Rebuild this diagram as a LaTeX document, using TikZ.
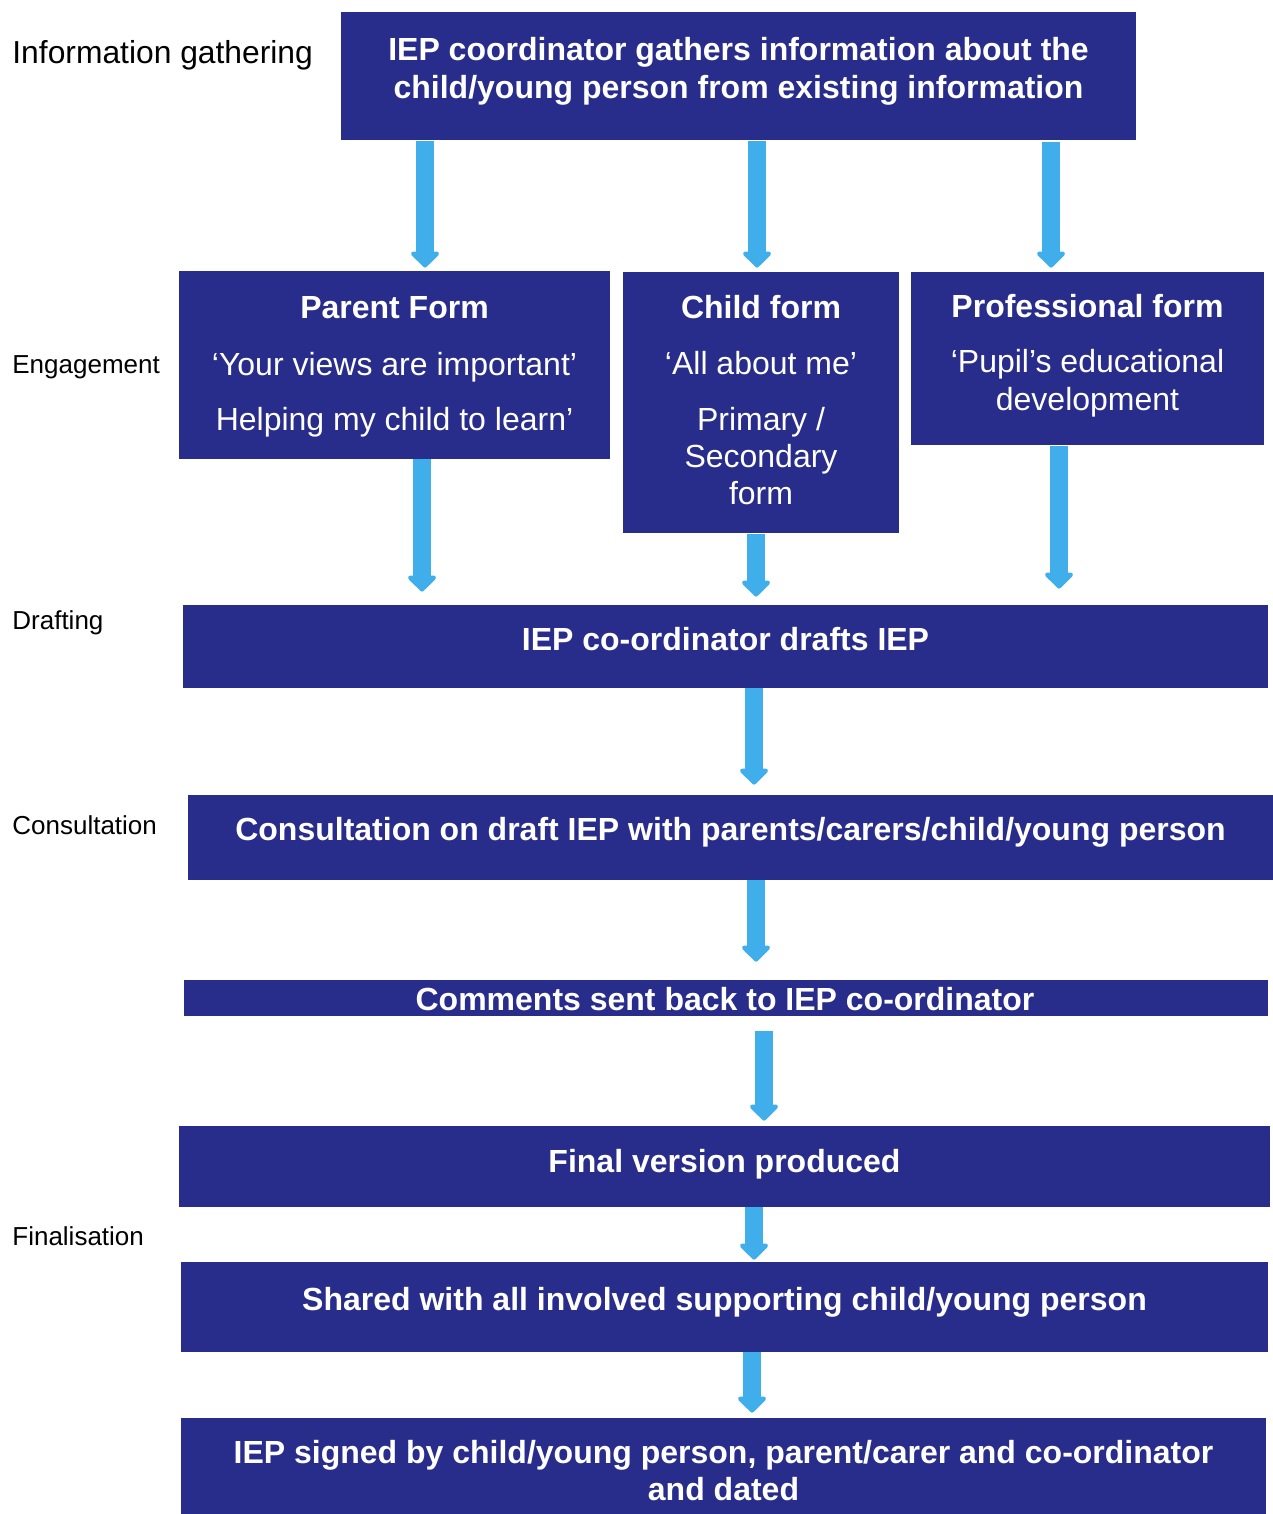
\documentclass[tikz,border=0pt]{standalone}
\usepackage{fontspec}
\setmainfont{Liberation Sans}
\usetikzlibrary{arrows.meta,calc}
\definecolor{navy}{RGB}{40,44,138}
\definecolor{sky}{RGB}{63,174,234}
\begin{document}
\begin{tikzpicture}[x=0.5pt,y=-0.5pt,
  box/.style={rectangle, fill=navy, draw=none, inner sep=0pt},
  bt/.style={text=white, font=\fontsize{16}{19}\selectfont\bfseries, anchor=base, inner sep=0pt},
  rt/.style={text=white, font=\fontsize{16}{19}\selectfont, anchor=base, inner sep=0pt},
  side/.style={text=black, font=\fontsize{13}{15}\selectfont, anchor=base west, inner sep=0pt},
  flow/.style={draw=sky, line width=9pt, line join=round, -{Triangle[width=16.5pt,length=8.5pt,round]}}]
\useasboundingbox (0,0) rectangle (1273,1514);

% stage labels down the left side
\node[side, font=\fontsize{15.9}{18}\selectfont] (lgather) at (12,64) {Information gathering};
\node[side] (lengage) at (12,373) {Engagement};
\node[side] (ldraft)  at (12,629) {Drafting};
\node[side] (lconsult) at (12,834) {Consultation};
\node[side] (lfinal)  at (12,1245) {Finalisation};

% boxes
\node[box, minimum width=397.5pt, minimum height=64pt]   (gather)   at (738.5,76) {};
\node[box, minimum width=215.5pt, minimum height=94pt]   (parent)   at (394.5,365) {};
\node[box, minimum width=138pt,   minimum height=130.5pt] (child)   at (761,402.5) {};
\node[box, minimum width=176.5pt, minimum height=86.5pt] (prof)     at (1087.5,358.5) {};
\node[box, minimum width=542.5pt, minimum height=41.5pt] (drafts)   at (725.5,646.5) {};
\node[box, minimum width=542.5pt, minimum height=42.5pt] (consult)  at (730.5,837.5) {};
\node[box, minimum width=542pt,   minimum height=18pt]   (comments) at (726,998) {};
\node[box, minimum width=545.5pt, minimum height=40.5pt] (final)    at (724.5,1166.5) {};
\node[box, minimum width=543.5pt, minimum height=45pt]   (shared)   at (724.5,1307) {};
\node[box, minimum width=542.5pt, minimum height=48pt]   (signed)   at (723.5,1466) {};

% box texts
\node[bt] (gather1) at (738.5,61) {IEP coordinator gathers information about the};
\node[bt] (gather2) at (738.5,99) {child/young person from existing information};

\node[bt] (parent1) at (394.5,318) {Parent Form};
\node[rt] (parent2) at (394.5,375) {‘Your views are important’};
\node[rt] (parent3) at (394.5,430) {Helping my child to learn’};

\node[bt] (child1) at (761,318) {Child form};
\node[rt] (child2) at (761,374) {‘All about me’};
\node[rt] (child3) at (761,430) {Primary /};
\node[rt] (child4) at (761,467) {Secondary};
\node[rt] (child5) at (761,504) {form};

\node[bt] (prof1) at (1087.5,317) {Professional form};
\node[rt] (prof2) at (1087.5,372) {‘Pupil’s educational};
\node[rt] (prof3) at (1087.5,410) {development};

\node[bt] (drafts1)   at (725.5,650) {IEP co-ordinator drafts IEP};
\node[bt] (consult1)  at (730.5,840) {Consultation on draft IEP with parents/carers/child/young person};
\node[bt] (comments1) at (725,1010) {Comments sent back to IEP co-ordinator};
\node[bt] (final1)    at (724.5,1172) {Final version produced};
\node[bt] (shared1)   at (724.5,1310) {Shared with all involved supporting child/young person};
\node[bt] (signed1)   at (723.5,1463) {IEP signed by child/young person, parent/carer and co-ordinator};
\node[bt] (signed2)   at (723.5,1500) {and dated};

% arrow columns
\coordinate (c1) at (425,0);
\coordinate (c2) at (757,0);
\coordinate (c3) at (1051,0);
\coordinate (c4) at (422,0);
\coordinate (c5) at (756,0);
\coordinate (c6) at (1059,0);
\coordinate (c7) at (754,0);
\coordinate (c8) at (756,0);
\coordinate (c9) at (764,0);
\coordinate (c10) at (754,0);
\coordinate (c11) at (752,0);

% connectors
\draw[flow] ($(gather.south -| c1)+(0,1)$) -- ($(parent.north -| c1)+(0,-3)$);
\draw[flow] ($(gather.south -| c2)+(0,1)$) -- ($(child.north -| c2)+(0,-4)$);
\draw[flow] ($(gather.south -| c3)+(0,2)$) -- ($(prof.north -| c3)+(0,-4)$);
\draw[flow] ($(parent.south -| c4)+(0,0)$) -- ($(drafts.north -| c4)+(0,-13)$);
\draw[flow] ($(child.south -| c5)+(0,1)$) -- ($(drafts.north -| c5)+(0,-8)$);
\draw[flow] ($(prof.south -| c6)+(0,1)$) -- ($(drafts.north -| c6)+(0,-16)$);
\draw[flow] ($(drafts.south -| c7)+(0,0)$) -- ($(consult.north -| c7)+(0,-10)$);
\draw[flow] ($(consult.south -| c8)+(0,0)$) -- ($(comments.north -| c8)+(0,-18)$);
\draw[flow] ($(comments.south -| c9)+(0,15)$) -- ($(final.north -| c9)+(0,-5)$);
\draw[flow] ($(final.south -| c10)+(0,0)$) -- ($(shared.north -| c10)+(0,-2)$);
\draw[flow] ($(shared.south -| c11)+(0,0)$) -- ($(signed.north -| c11)+(0,-5)$);
\end{tikzpicture}
\end{document}
